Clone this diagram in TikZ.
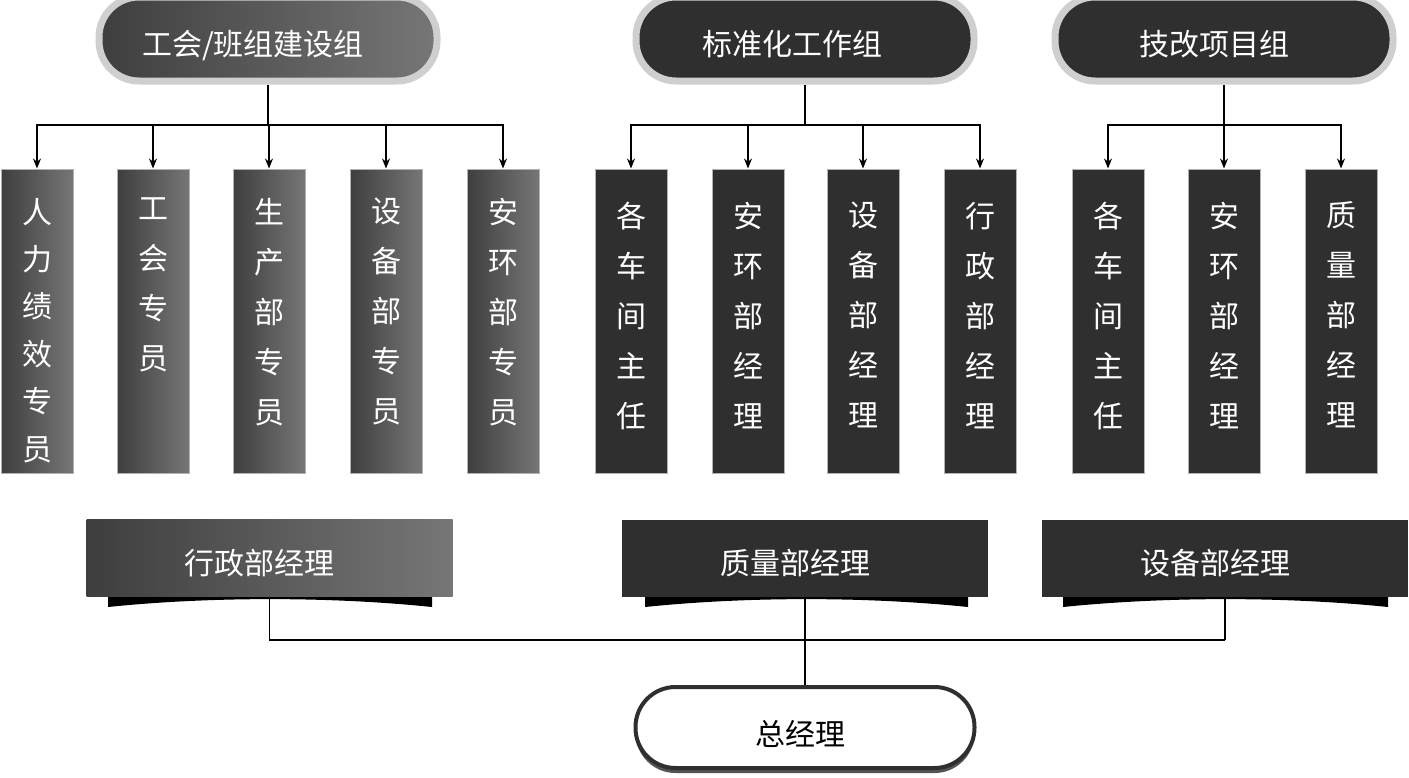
\documentclass[tikz,border=0pt]{standalone}
\usepackage{fontspec}
\newfontfamily\cjk{Noto Sans CJK SC}
\usetikzlibrary{arrows.meta,shadows,calc}
\definecolor{dk}{HTML}{2F2F2F}
\definecolor{gL}{HTML}{3E3E3E}
\definecolor{gR}{HTML}{767676}
\definecolor{rim}{HTML}{CFCFCF}
\tikzset{
  pillbase/.style={rectangle, rounded corners=20pt, minimum width=169pt, minimum height=42pt,
     draw=rim, line width=3.5pt, text=white, inner sep=0pt, text height=17pt, text depth=1pt,
     font=\cjk\fontsize{15pt}{18pt}\selectfont},
  pillgrad/.style={pillbase, left color=gL, right color=gR},
  pilldark/.style={pillbase, fill=dk},
  vbox/.style={rectangle, minimum width=36pt, minimum height=152pt, inner sep=0pt, draw=gray!60, line width=0.5pt},
  vgrad/.style={vbox, left color=gL, right color=gR},
  vdark/.style={vbox, fill=dk},
  vtext/.style={anchor=north, inner sep=0pt, align=center, text=white, font=\cjk\fontsize{15pt}{25pt}\selectfont},
  vtextsix/.style={vtext, font=\cjk\fontsize{15pt}{23.7pt}\selectfont},
  bannerbase/.style={rectangle, minimum width=183pt, minimum height=38.5pt, inner sep=0pt, text=white,
     text height=17pt, text depth=1pt, font=\cjk\fontsize{15pt}{18pt}\selectfont},
  bannergrad/.style={bannerbase, left color=gL, right color=gR},
  bannerdark/.style={bannerbase, fill=dk},
  ribbon/.style={fill=black},
  link/.style={draw=black, line width=0.75pt},
  arr/.style={link, -{Stealth[length=5pt,width=4pt]}},
  bosspill/.style={rectangle, rounded corners=20pt, minimum width=169.5pt, minimum height=40.5pt,
     draw=dk, line width=2pt, fill=white, text=black, inner sep=0pt, text height=19pt, text depth=1pt,
     font=\cjk\fontsize{15pt}{18pt}\selectfont,
     drop shadow={shadow xshift=0pt, shadow yshift=-2.5pt, fill=black!75, opacity=0.9}}
}
\begin{document}
\begin{tikzpicture}[x=0.5pt,y=-0.5pt]
\useasboundingbox (0,0) rectangle (1409,777);

% top pills
\node[pillgrad] (p1) at (268,39) {工会/班组建设组\kern15pt};
\node[pilldark] (p2) at (805,39) {标准化工作组\kern13pt};
\node[pilldark] (p3) at (1224,39) {技改项目组\kern10pt};

% vertical boxes group 1
\node[vgrad] (a1) at (37,321) {};
\node[vgrad] (a2) at (153,321) {};
\node[vgrad] (a3) at (269,321) {};
\node[vgrad] (a4) at (386,321) {};
\node[vgrad] (a5) at (503,321) {};
\node[vtextsix] (ta1) at ($(a1.north)+(0,29)$) {人\\力\\绩\\效\\专\\员};
\node[vtext] (ta2) at ($(a2.north)+(0,29)$) {工\\会\\专\\员};
\node[vtext] (ta3) at ($(a3.north)+(0,29)$) {生\\产\\部\\专\\员};
\node[vtext] (ta4) at ($(a4.north)+(0,29)$) {设\\备\\部\\专\\员};
\node[vtext] (ta5) at ($(a5.north)+(0,29)$) {安\\环\\部\\专\\员};

% group 2
\node[vdark] (b1) at (631,321) {};
\node[vdark] (b2) at (748,321) {};
\node[vdark] (b3) at (863,321) {};
\node[vdark] (b4) at (980,321) {};
\node[vtext] (tb1) at ($(b1.north)+(0,33)$) {各\\车\\间\\主\\任};
\node[vtext] (tb2) at ($(b2.north)+(0,33)$) {安\\环\\部\\经\\理};
\node[vtext] (tb3) at ($(b3.north)+(0,33)$) {设\\备\\部\\经\\理};
\node[vtext] (tb4) at ($(b4.north)+(0,33)$) {行\\政\\部\\经\\理};

% group 3
\node[vdark] (c1) at (1108,321) {};
\node[vdark] (c2) at (1224,321) {};
\node[vdark] (c3) at (1341,321) {};
\node[vtext] (tc1) at ($(c1.north)+(0,33)$) {各\\车\\间\\主\\任};
\node[vtext] (tc2) at ($(c2.north)+(0,33)$) {安\\环\\部\\经\\理};
\node[vtext] (tc3) at ($(c3.north)+(0,33)$) {质\\量\\部\\经\\理};

% branch connectors
\coordinate (t1) at (268,125);
\coordinate (t2) at (805,125);
\coordinate (t3) at (1224,125);
\draw[link] (p1.south) -- (t1);
\draw[link] (p2.south) -- (t2);
\draw[link] (p3.south) -- (t3);
\foreach \b in {a1,a2,a3,a4,a5} \draw[arr] (t1) -| (\b.north);
\foreach \b in {b1,b2,b3,b4} \draw[arr] (t2) -| (\b.north);
\foreach \b in {c1,c2,c3} \draw[arr] (t3) -| (\b.north);

% ribbons under banners
\fill[ribbon] (108,596) -- (432,596) -- (432,607) .. controls (330,596.5) and (210,596.5) .. (108,607) -- cycle;
\fill[ribbon] (645,596) -- (968,596) -- (968,607) .. controls (866,596.5) and (747,596.5) .. (645,607) -- cycle;
\fill[ribbon] (1063,596) -- (1388,596) -- (1388,607) .. controls (1285,596.5) and (1166,596.5) .. (1063,607) -- cycle;

% banners
\node[bannergrad] (h1) at (269.5,558) {行政部经理\kern10pt};
\node[bannerdark] (h2) at (805,558) {质量部经理\kern10pt};
\node[bannerdark] (h3) at (1225,558) {设备部经理\kern10pt};

% bottom connectors
\coordinate (j1) at (269.5,640);
\coordinate (j2) at (805,640);
\coordinate (j3) at (1225,640);
\draw[link] (h1.south) -- (j1) -- (j3);
\draw[link] (h3.south) -- (j3);

% general manager
\node[bosspill] (gm) at (805,727.5) {总经理\kern5pt};
\draw[link] (h2.south) -- (j2) -- (gm.north);
\end{tikzpicture}
\end{document}
